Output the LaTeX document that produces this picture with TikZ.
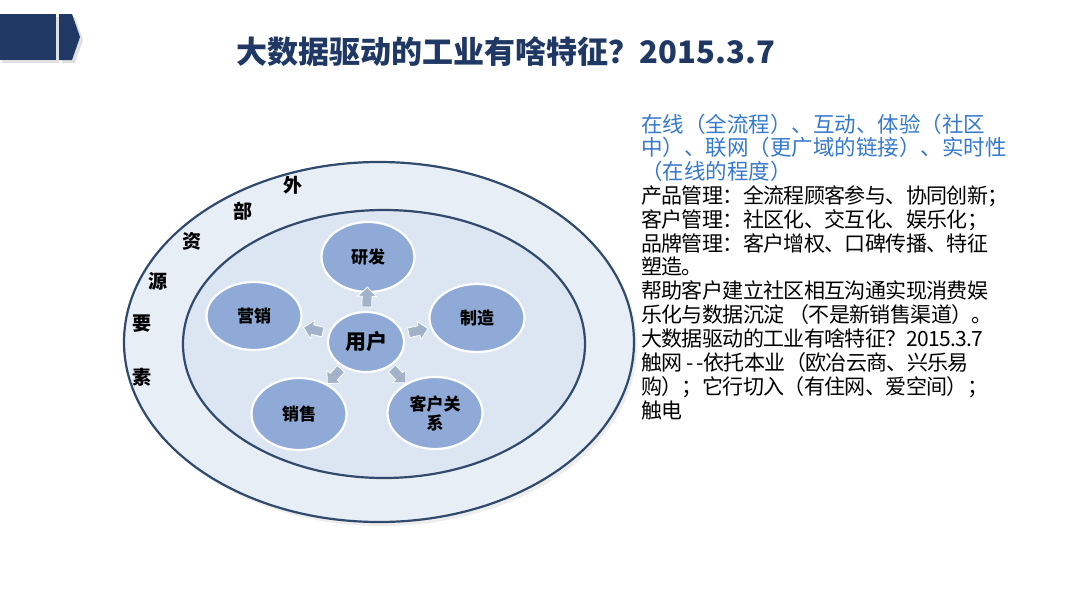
\documentclass[tikz,border=0pt]{standalone}
\usepackage{fontspec}
\setmainfont{Noto Sans CJK SC}
\usetikzlibrary{shapes.arrows}
\definecolor{navy}{HTML}{1F3864}
\definecolor{ringline}{HTML}{2F4A6D}
\definecolor{outerfill}{HTML}{E8EEF6}
\definecolor{innerfill}{HTML}{DCE6F2}
\definecolor{ellfill}{HTML}{8FAAD6}
\definecolor{arrfill}{HTML}{A2B2C8}
\definecolor{bluetext}{HTML}{3579CC}
\tikzset{
  ring/.style={draw=ringline, line width=2.2pt},
  unit/.style={ellipse, draw=white, line width=2.2pt, fill=ellfill, font=\bfseries\fontsize{17}{19}\selectfont, align=center, inner sep=0pt},
  flow/.style={single arrow, fill=arrfill, draw=white, line width=0.8pt, inner sep=4.5pt, minimum height=20pt, single arrow head extend=4.5pt, sloped, allow upside down},
  ringchar/.style={font=\bfseries\fontsize{19}{21}\selectfont, inner sep=0pt},
  bl/.style={anchor=base west, inner sep=0pt, text=bluetext, font=\fontsize{21.5}{24}\selectfont\addfontfeatures{LetterSpace=0}},
  bk/.style={anchor=base west, inner sep=0pt, text=black, font=\fontsize{21}{24}\selectfont\addfontfeatures{LetterSpace=-3}},
}
\usetikzlibrary{shapes.geometric}
\begin{document}
\begin{tikzpicture}[x=1pt,y=-1pt]
\useasboundingbox (0,0) rectangle (1080,608);
\fill[white] (0,0) rectangle (1080,608);
% top-left marker
\fill[black!12] (2,17) rectangle (59,63);
\fill[black!12] (62,17) -- (75,17) -- (83,40) -- (75,63) -- (62,63) -- cycle;
\fill[navy] (0,14) rectangle (56,60);
\fill[navy] (59,14) -- (72,14) -- (80,37) -- (72,60) -- (59,60) -- cycle;
% title
\node[font=\bfseries\fontsize{31}{34}\selectfont, text=navy] (title) at (506,52) {大数据驱动的工业有啥特征？2015.3.7};
% rings
\fill[black!7] (382,346) ellipse [x radius=255, y radius=180];
\draw[ring, fill=outerfill] (379,342) ellipse [x radius=255, y radius=180];
\draw[ring, fill=innerfill] (384,344) ellipse [x radius=201, y radius=134];
% ring labels
\node[ringchar] (c1) at (293,185) {外};
\node[ringchar] (c2) at (243,211) {部};
\node[ringchar] (c3) at (192,241) {资};
\node[ringchar] (c4) at (158,281) {源};
\node[ringchar] (c5) at (142,324) {要};
\node[ringchar] (c6) at (142,377) {素};
% units
\node[unit, minimum width=93pt, minimum height=70pt] (rd) at (368,257) {研发};
\node[unit, minimum width=95pt, minimum height=68pt] (yx) at (254,316) {营销};
\node[unit, minimum width=95pt, minimum height=68pt] (zz) at (477,318) {制造};
\node[unit, minimum width=95pt, minimum height=72pt] (xs) at (299,414) {销售};
\node[unit, minimum width=95pt, minimum height=72pt] (kh) at (435,413) {客户关\\系};
\node[unit, minimum width=76pt, minimum height=60pt, font=\bfseries\fontsize{21}{23}\selectfont] (user) at (366,342) {用户};
% flow arrows
\path (user.center) -- node[flow, pos=0.5] (a1) {} (rd.center);
\path (user.center) -- node[flow, pos=0.45] (a2) {} (yx.center);
\path (user.center) -- node[flow, pos=0.45] (a3) {} (zz.center);
\path (user.center) -- node[flow, pos=0.45] (a4) {} (xs.center);
\path (user.center) -- node[flow, pos=0.45] (a5) {} (kh.center);
% right text
\node[bl] (l1) at (641,132) {在线（全流程）、互动、体验（社区};
\node[bl] (l2) at (641,155.5) {中）、联网（更广域的链接）、实时性};
\node[bl] (l3) at (641,179) {（在线的程度）};
\node[bk] (l4) at (641,203.5) {产品管理：全流程顾客参与、协同创新；};
\node[bk] (l5) at (641,227) {客户管理：社区化、交互化、娱乐化；};
\node[bk] (l6) at (641,251) {品牌管理：客户增权、口碑传播、特征};
\node[bk] (l7) at (641,274.5) {塑造。};
\node[bk] (l8) at (641,298.5) {帮助客户建立社区相互沟通实现消费娱};
\node[bk] (l9) at (641,322) {乐化与数据沉淀 （不是新销售渠道）。};
\node[bk] (l10) at (641,346) {大数据驱动的工业有啥特征？2015.3.7};
\node[bk] (l11) at (641,370) {触网\,-{}\,-{}依托本业（欧冶云商、兴乐易};
\node[bk] (l12) at (641,394) {购）；它行切入（有住网、爱空间）；};
\node[bk] (l13) at (641,418) {触电};
\end{tikzpicture}
\end{document}
